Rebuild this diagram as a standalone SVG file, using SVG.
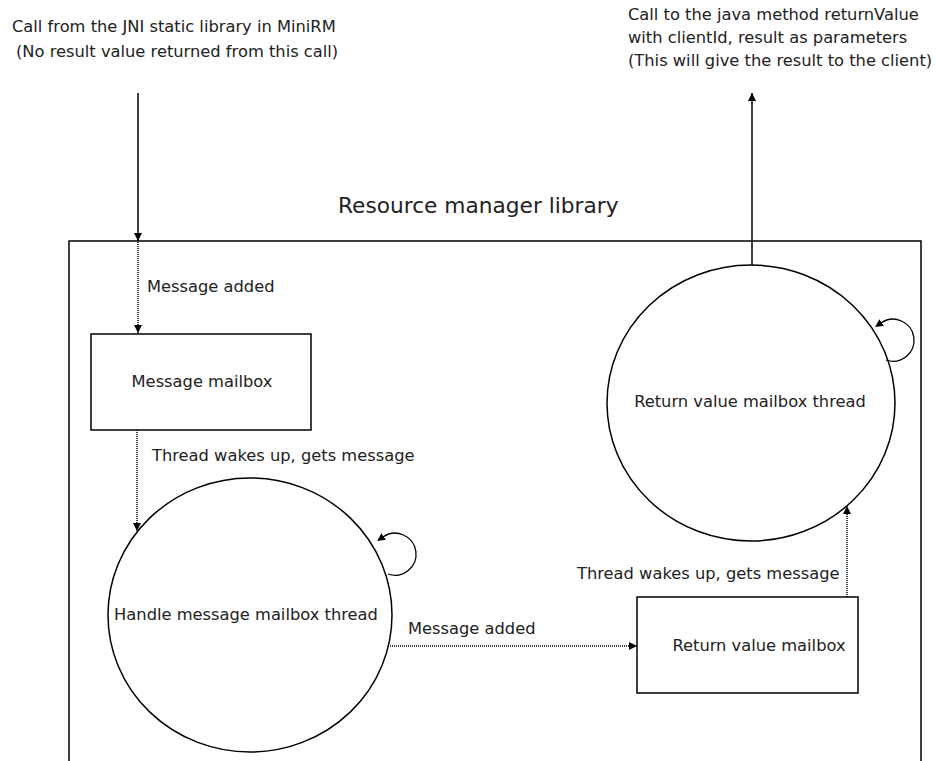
<svg xmlns="http://www.w3.org/2000/svg" width="936" height="761" viewBox="0 0 936 761">
  <style>
    text { font-family: "DejaVu Sans", "Liberation Sans", sans-serif; font-size: 16.3px; fill: #222; }
    .title { font-size: 21.7px; }
    .shape { fill: #fff; stroke: #000; stroke-width: 1.5; }
    .frame { fill: none; stroke: #000; stroke-width: 1.5; }
    .solid { fill: none; stroke: #000; stroke-width: 1.5; }
    .dotted { fill: none; stroke: #000; stroke-width: 1.5; stroke-dasharray: 1 1; }
    .loop { fill: none; stroke: #000; stroke-width: 1.3; }
  </style>
  <defs>
    <!-- tip placed at the end of the line -->
    <marker id="head" viewBox="0 0 10 10" refX="10" refY="5" markerWidth="8" markerHeight="8" markerUnits="userSpaceOnUse" orient="auto">
      <path d="M0,0 L10,5 L0,10 Z" fill="#000"/>
    </marker>
    <!-- base placed at the end of the line, tip extends past it -->
    <marker id="head-out" viewBox="0 0 10 10" refX="1" refY="5" markerWidth="8" markerHeight="8" markerUnits="userSpaceOnUse" orient="auto">
      <path d="M0,0 L10,5 L0,10 Z" fill="#000"/>
    </marker>
  </defs>

  <rect width="936" height="761" fill="#fff"/>

  <!-- library boundary, open at the bottom -->
  <g id="library">
    <path class="frame" d="M69,770 V241 H921 V770"/>
    <text class="title" x="338" y="213">Resource manager library</text>
  </g>

  <g id="caller-note">
    <text x="12" y="32">Call from the JNI static library in MiniRM</text>
    <text x="16" y="57">(No result value returned from this call)</text>
  </g>

  <g id="java-note">
    <text x="628" y="20">Call to the java method returnValue</text>
    <text x="628" y="43">with clientId, result as parameters</text>
    <text x="628" y="66">(This will give the result to the client)</text>
  </g>

  <g id="message-mailbox">
    <rect class="shape" x="91" y="334" width="220" height="96"/>
    <text x="202" y="387" text-anchor="middle">Message mailbox</text>
  </g>

  <g id="handle-thread">
    <ellipse class="shape" cx="250" cy="615" rx="142" ry="137"/>
    <text x="246" y="620" text-anchor="middle">Handle message mailbox thread</text>
  </g>

  <g id="return-mailbox">
    <rect class="shape" x="637" y="597" width="221" height="96"/>
    <text x="759" y="651" text-anchor="middle">Return value mailbox</text>
  </g>

  <g id="return-thread">
    <ellipse class="shape" cx="751" cy="403" rx="144" ry="138"/>
    <text x="750" y="407" text-anchor="middle">Return value mailbox thread</text>
  </g>

  <g id="connectors">
    <!-- incoming call -->
    <line class="solid" x1="138" y1="93" x2="138" y2="241" marker-end="url(#head)"/>
    <line class="dotted" x1="138" y1="242" x2="138" y2="333" marker-end="url(#head)"/>
    <text x="147" y="292">Message added</text>

    <!-- mailbox to handler thread -->
    <line class="dotted" x1="137" y1="430" x2="137" y2="531" marker-end="url(#head)"/>
    <text x="152" y="461">Thread wakes up, gets message</text>

    <!-- handler thread loop -->
    <path class="loop" d="M388,574 A21,21 0 1 0 383,537" marker-end="url(#head-out)"/>

    <!-- handler thread to return value mailbox -->
    <line class="dotted" x1="390" y1="646" x2="637" y2="646" marker-end="url(#head)"/>
    <text x="408" y="634">Message added</text>

    <!-- return value mailbox to its thread -->
    <line class="dotted" x1="847" y1="597" x2="847" y2="506" marker-end="url(#head)"/>
    <text x="577" y="579">Thread wakes up, gets message</text>

    <!-- return thread loop -->
    <path class="loop" d="M886,360 A21,21 0 1 0 881,323" marker-end="url(#head-out)"/>

    <!-- outgoing call to java -->
    <line class="solid" x1="752" y1="265" x2="752" y2="93" marker-end="url(#head)"/>
  </g>
</svg>
